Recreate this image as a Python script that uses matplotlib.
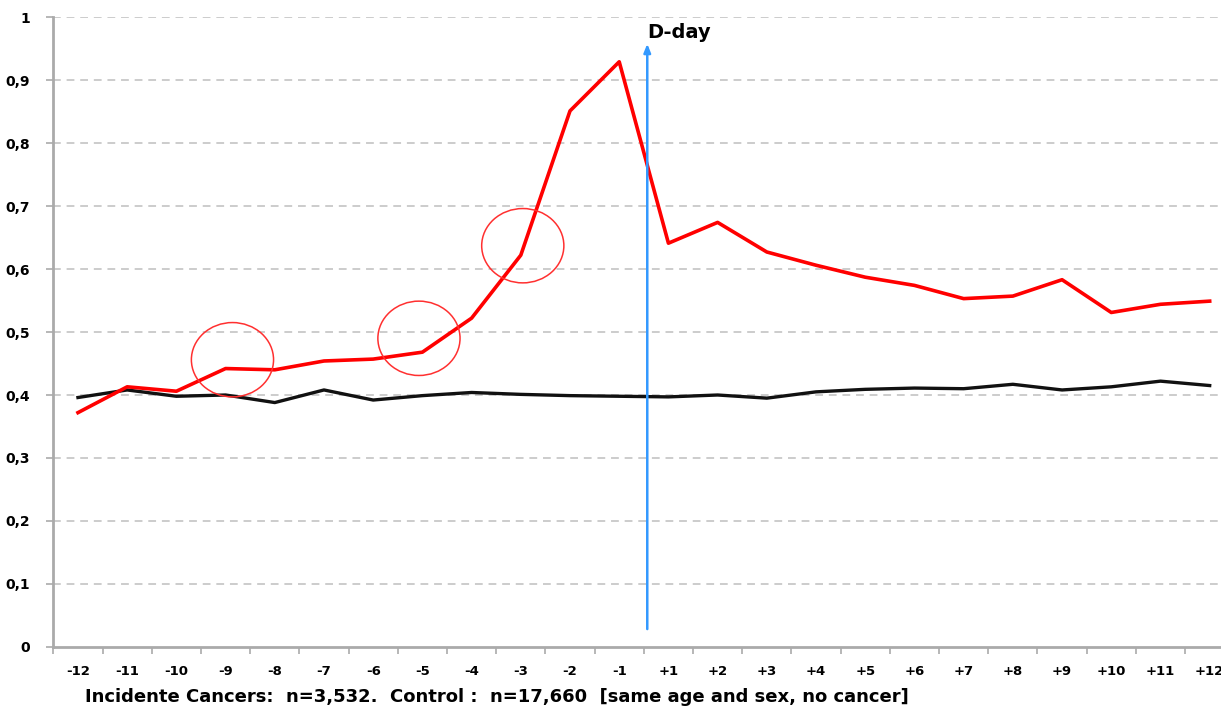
import matplotlib
matplotlib.use("Agg")
import matplotlib.pyplot as plt
from matplotlib.patches import Ellipse

months = ["-12", "-11", "-10", "-9", "-8", "-7", "-6", "-5", "-4", "-3", "-2", "-1",
          "+1", "+2", "+3", "+4", "+5", "+6", "+7", "+8", "+9", "+10", "+11", "+12"]
cancers = [0.372, 0.413, 0.406, 0.442, 0.440, 0.454, 0.457, 0.468, 0.522, 0.622, 0.851, 0.929,
           0.641, 0.674, 0.627, 0.606, 0.587, 0.574, 0.553, 0.557, 0.583, 0.531, 0.544, 0.549]
controls = [0.396, 0.408, 0.398, 0.400, 0.388, 0.408, 0.392, 0.399, 0.404, 0.401, 0.399, 0.398,
            0.397, 0.400, 0.395, 0.405, 0.409, 0.411, 0.410, 0.417, 0.408, 0.413, 0.422, 0.415]
yticks = [0, 0.1, 0.2, 0.3, 0.4, 0.5, 0.6, 0.7, 0.8, 0.9, 1]
ylabels = ["0", "0,1", "0,2", "0,3", "0,4", "0,5", "0,6", "0,7", "0,8", "0,9", "1"]
# highlighted points (category index, value)
circles = [(3.14, 0.456), (6.93, 0.490), (9.04, 0.637)]
caption = "Incidente Cancers:  n=3,532.  Control :  n=17,660  [same age and sex, no cancer]"

fig = plt.figure(figsize=(12.21, 7.13), dpi=100)
ax = fig.add_axes([0.0437, 0.0926, 0.9563, 0.8835])
x = list(range(len(months)))

for v in yticks[1:]:
    ax.axhline(v, color="#cccccc", lw=1.4, ls=(0, (4, 3)), zorder=0)

ax.plot(x, controls, color="#111111", lw=2.4, zorder=3)
ax.plot(x, cancers, color="#ff0000", lw=2.6, zorder=4)

for cx, cy in circles:
    ax.add_patch(Ellipse((cx, cy), width=1.67, height=0.118, fill=False,
                         edgecolor="#ff3030", lw=1.1, zorder=5))

ax.annotate("", xy=(11.57, 0.962), xytext=(11.57, 0.024),
            arrowprops=dict(arrowstyle="-|>,head_length=0.5,head_width=0.2",
                            color="#3399ff", lw=1.8), zorder=6)
ax.text(11.57, 0.976, "D-day", fontsize=14, fontweight="bold", ha="left", va="center")

ax.set_yticks(yticks)
ax.set_yticklabels(ylabels, fontsize=10, fontweight="bold")
ax.set_xticks(x)
ax.set_xticklabels(months, fontsize=9.5, fontweight="bold")
ax.set_xticks([i - 0.5 for i in range(len(months))], minor=True)
ax.set_xlim(-0.5, 23.23)
ax.set_ylim(0, 1)
ax.tick_params(axis="x", which="major", length=0, pad=13)
ax.tick_params(axis="x", which="minor", length=5, color="#aaaaaa", width=1.2, direction="out")
ax.tick_params(axis="y", length=5, color="#aaaaaa", width=1.2, pad=12)

for s in ["top", "right"]:
    ax.spines[s].set_visible(False)
for s in ["left", "bottom"]:
    ax.spines[s].set_color("#aaaaaa")
    ax.spines[s].set_linewidth(2)

fig.text(0.07, 0.022, caption, fontsize=13, fontweight="bold", ha="left", va="center")

fig.savefig("out.png", dpi=100)
